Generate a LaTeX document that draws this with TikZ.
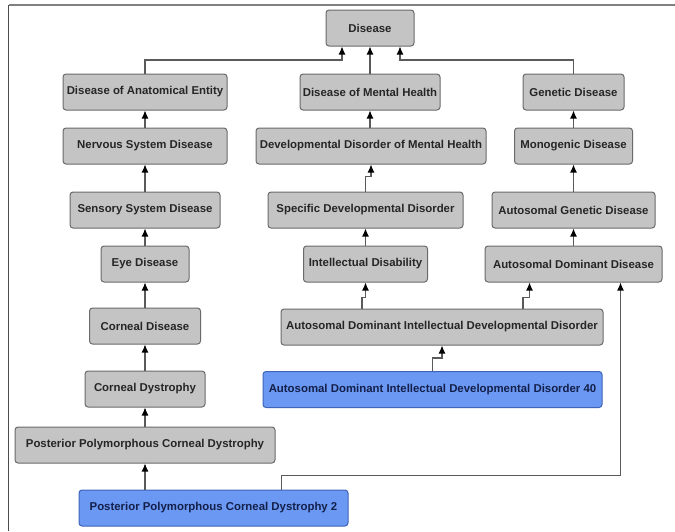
\documentclass[tikz,border=0pt]{standalone}
\usepackage{fontspec}
\setmainfont{Liberation Sans}
\usetikzlibrary{arrows.meta}
\definecolor{boxgray}{HTML}{C4C4C4}
\definecolor{boxedge}{HTML}{6A6A6A}
\definecolor{bluefill}{HTML}{6A98F2}
\definecolor{blueedge}{HTML}{3F63B8}
\definecolor{bluetext}{HTML}{14204A}
\definecolor{linegray}{HTML}{5A5A5A}
\tikzset{
  gbox/.style={draw=boxedge, fill=boxgray, line width=1pt, rounded corners=3pt,
    minimum height=36pt, inner sep=0pt, font=\fontsize{11.4}{13}\selectfont\bfseries, text=black!85},
  bbox/.style={gbox, draw=blueedge, fill=bluefill, text=bluetext},
  arr/.style={draw=linegray, line width=1.1pt, -{Latex[length=8pt,width=7pt,black]}},
}
\begin{document}
\begin{tikzpicture}[x=1pt,y=-1pt]
\useasboundingbox (0,0) rectangle (675,531);
\draw[gray, line width=1.5pt] (8.5,5) -- (675,5);
\draw[black!70, line width=1.2pt] (8.5,5) -- (8.5,531);
% top
\node[gbox, minimum width=88] (D) at (370,28) {Disease};
% left column
\node[gbox, minimum width=164] (DAE) at (145,92) {Disease of Anatomical Entity};
\node[gbox, minimum width=164] (NSD) at (145,146) {Nervous System Disease};
\node[gbox, minimum width=150] (SSD) at (145,210) {Sensory System Disease};
\node[gbox, minimum width=88] (ED) at (145,264) {Eye Disease};
\node[gbox, minimum width=111] (CDis) at (145,326) {Corneal Disease};
\node[gbox, minimum width=120] (CDys) at (145,389) {Corneal Dystrophy};
\node[gbox, minimum width=260] (PPCD) at (145,445) {Posterior Polymorphous Corneal Dystrophy};
\node[bbox, minimum width=269] (PPCDt) at (213.5,508) {Posterior Polymorphous Corneal Dystrophy 2};
% middle column
\node[gbox, minimum width=140] (DMH) at (370,92) {Disease of Mental Health};
\node[gbox, minimum width=230] (DDMH) at (371,146) {Developmental Disorder of Mental Health};
\node[gbox, minimum width=195] (SDD) at (365.5,210) {Specific Developmental Disorder};
\node[gbox, minimum width=124] (ID) at (365.5,264) {Intellectual Disability};
\node[gbox, minimum width=322] (ADIDD) at (442,327) {Autosomal Dominant Intellectual Developmental Disorder};
\node[bbox, minimum width=339] (ADIDDf) at (432.5,389.5) {Autosomal Dominant Intellectual Developmental Disorder 40};
% right column
\node[gbox, minimum width=101] (GD) at (573.5,92) {Genetic Disease};
\node[gbox, minimum width=118] (MD) at (573.5,146) {Monogenic Disease};
\node[gbox, minimum width=163] (AGD) at (573.5,210) {Autosomal Genetic Disease};
\node[gbox, minimum width=177] (ADD) at (573.5,264) {Autosomal Dominant Disease};
% connectors to Disease
\draw[arr] (DAE.north) |- ([xshift=-28]D.south |- 0,60) -- ([xshift=-28]D.south);
\draw[arr] (DMH.north) -- (D.south);
\draw[arr] (GD.north) |- ([xshift=30]D.south |- 0,60) -- ([xshift=30]D.south);
% left chain
\draw[arr] (NSD.north) -- (DAE.south);
\draw[arr] (SSD.north) -- (NSD.south);
\draw[arr] (ED.north) -- (SSD.south);
\draw[arr] (CDis.north) -- (ED.south);
\draw[arr] (CDys.north) -- (CDis.south);
\draw[arr] (PPCD.north) -- (CDys.south);
\draw[arr] (PPCDt.north -| PPCD.south) -- (PPCD.south);
\draw[arr] ([xshift=68]PPCDt.north) -- ++(0,-14) -| ([xshift=47]ADD.south);
% middle chain
\draw[arr] (DDMH.north -| DMH.south) -- (DMH.south);
\draw[arr] (SDD.north) -- ++(0,-15) -| (DDMH.south);
\draw[arr] (ID.north) -- (SDD.south);
\draw[arr] ([xshift=-80]ADIDD.north) -- ++(0,-11) -| (ID.south);
\draw[arr] ([xshift=81]ADIDD.north) -- ++(0,-11) -| ([xshift=-44]ADD.south);
\draw[arr] (ADIDDf.north) -- ++(0,-13) -| (ADIDD.south);
% right chain
\draw[arr] (MD.north) -- (GD.south);
\draw[arr] (AGD.north) -- (MD.south);
\draw[arr] (ADD.north) -- (AGD.south);
\end{tikzpicture}
\end{document}
